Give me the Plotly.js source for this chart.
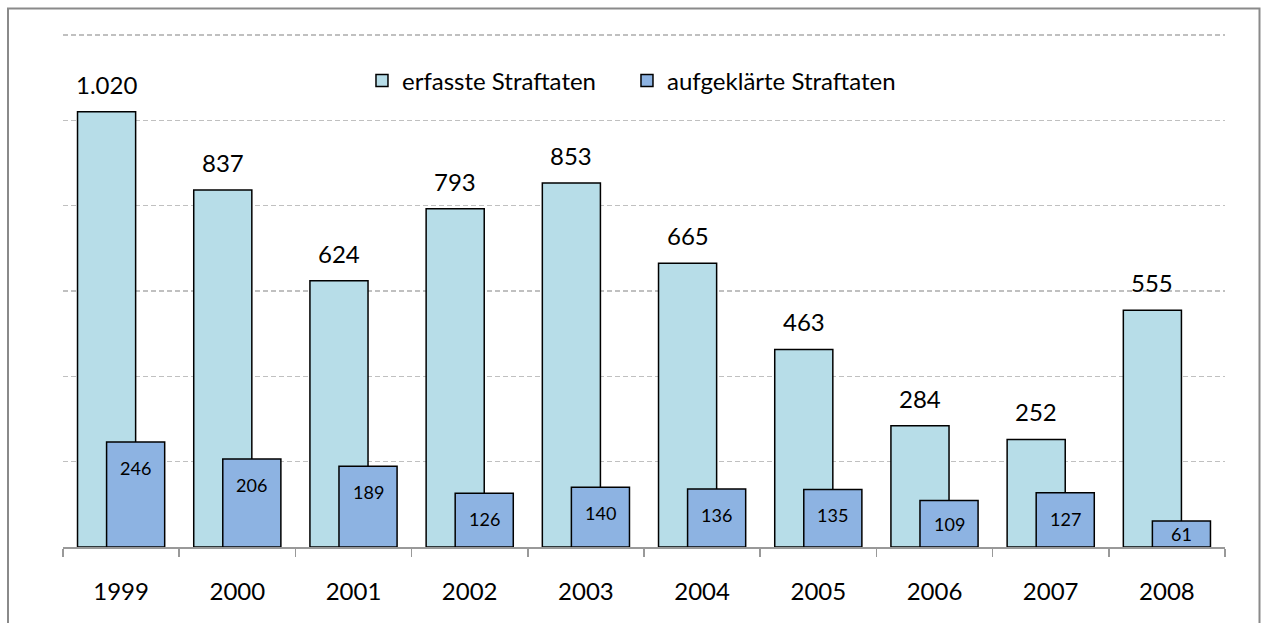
<!DOCTYPE html>
<html>
<head>
<meta charset="utf-8">
<script src="https://cdn.plot.ly/plotly-3.0.1.min.js"></script>
<style>html,body{margin:0;padding:0;background:#fff;}#chart{width:1261px;height:623px;}</style>
</head>
<body>
<div id="chart"></div>
<script>
const years = ['1999','2000','2001','2002','2003','2004','2005','2006','2007','2008'];
const erfasst = [1020, 837, 624, 793, 853, 665, 463, 284, 252, 555];
const aufgeklaert = [246, 206, 189, 126, 140, 136, 135, 109, 127, 61];

const fmt = v => v.toLocaleString('de-DE');
const FONT = 'Lato, sans-serif';

const traces = [
  {
    type: 'bar', name: 'erfasste Straftaten', x: years, y: erfasst,
    width: 0.5, offset: -0.375, legendwidth: 220,
    marker: {color: '#B7DDE8', line: {color: '#000', width: 1.5}},
    hoverinfo: 'x+y'
  },
  {
    type: 'bar', name: 'aufgeklärte Straftaten', x: years, y: aufgeklaert,
    width: 0.5, offset: -0.125,
    marker: {color: '#8DB3E2', line: {color: '#000', width: 1.5}},
    hoverinfo: 'x+y'
  }
];

const outsideLabels = erfasst.map((v, i) => ({
  x: i - 0.125, y: v, xref: 'x', yref: 'y', text: fmt(v),
  showarrow: false, yanchor: 'bottom', yshift: 11,
  font: {family: FONT, size: 24, color: '#000'}
}));
const insideLabels = aufgeklaert.map((v, i) => ({
  x: i + 0.125, y: Math.max(v - 61, v / 2), xref: 'x', yref: 'y', text: fmt(v),
  showarrow: false, yanchor: 'middle',
  font: {family: FONT, size: 18, color: '#000'}
}));

const PT = 31, PB = 547, PH = PB - PT;

const layout = {
  width: 1261, height: 623,
  margin: {l: 63, r: 36, t: PT, b: 623 - PB},
  paper_bgcolor: '#fff', plot_bgcolor: '#fff',
  barmode: 'overlay', separators: ',.',
  showlegend: true,
  legend: {orientation: 'h', x: 0.2573, y: (PB - 81) / PH, xanchor: 'left', yanchor: 'middle',
           font: {family: FONT, size: 24, color: '#000'},
           bgcolor: 'rgba(255,255,255,0)', traceorder: 'normal'},
  xaxis: {type: 'category', tickson: 'boundaries', ticks: 'outside', ticklen: 8,
          tickcolor: '#999', tickwidth: 1.5, showline: true, linecolor: '#999', linewidth: 1.5,
          showgrid: false, fixedrange: true, ticklabelstandoff: 23,
          tickfont: {family: FONT, size: 24, color: '#000'}},
  yaxis: {range: [0, 1200 * PH / (PB - 35)], tick0: 0, dtick: 200, showticklabels: false, ticks: '',
          showgrid: true, gridcolor: '#c0c0c0', griddash: '5px,3px', gridwidth: 1.2,
          zeroline: false, showline: false, fixedrange: true},
  annotations: outsideLabels.concat(insideLabels),
  shapes: [{type: 'rect', xref: 'paper', yref: 'paper',
            x0: (8 - 63) / 1162, x1: (1259.5 - 63) / 1162,
            y0: (PB - 630) / PH, y1: (PB - 8.5) / PH,
            line: {color: '#8a8a8a', width: 2}, fillcolor: 'rgba(0,0,0,0)', layer: 'below'}]
};

Plotly.newPlot('chart', traces, layout, {displayModeBar: false, staticPlot: true});
</script>
</body>
</html>
